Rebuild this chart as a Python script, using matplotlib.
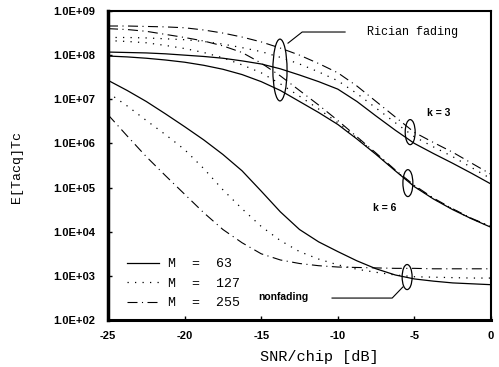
import matplotlib.pyplot as plt
from matplotlib.patches import Ellipse
import numpy as np

# SNR/chip grid [dB]
snr = [-25, -23.75, -22.5, -21.25, -20, -18.75, -17.5, -16.25, -15, -13.75, -12.5,
       -11.25, -10, -8.75, -7.5, -6.25, -5, -3.75, -2.5, -1.25, 0]

# log10(E[Tacq]Tc), nonfading
nf_63 = [7.43, 7.2, 6.95, 6.67, 6.38, 6.08, 5.75, 5.38, 4.92, 4.45, 4.05,
         3.77, 3.55, 3.34, 3.16, 3.02, 2.93, 2.88, 2.84, 2.82, 2.8]
nf_127 = [7.15, 6.85, 6.52, 6.2, 5.86, 5.43, 4.95, 4.52, 4.12, 3.8, 3.55,
          3.38, 3.25, 3.15, 3.08, 3.02, 2.98, 2.97, 2.96, 2.95, 2.95]
nf_255 = [6.65, 6.17, 5.7, 5.27, 4.85, 4.43, 4.05, 3.75, 3.5, 3.36, 3.28,
          3.23, 3.2, 3.19, 3.18, 3.17, 3.17, 3.16, 3.16, 3.16, 3.16]

# Rician fading, k = 3
k3_63 = [8.07, 8.06, 8.05, 8.03, 8.0, 7.97, 7.93, 7.87, 7.8, 7.69, 7.55,
         7.4, 7.23, 6.95, 6.62, 6.3, 6.0, 5.77, 5.55, 5.32, 5.08]
k3_127 = [8.4, 8.4, 8.39, 8.37, 8.35, 8.31, 8.25, 8.17, 8.08, 7.95, 7.8,
          7.62, 7.42, 7.13, 6.8, 6.47, 6.15, 5.92, 5.7, 5.45, 5.2]
k3_255 = [8.66, 8.66, 8.65, 8.64, 8.62, 8.57, 8.5, 8.41, 8.3, 8.16, 8.0,
          7.81, 7.6, 7.3, 6.95, 6.6, 6.25, 6.02, 5.8, 5.55, 5.3]

# Rician fading, k = 6
k6_63 = [7.98, 7.96, 7.93, 7.89, 7.84, 7.77, 7.68, 7.56, 7.4, 7.2, 6.95,
         6.7, 6.43, 6.1, 5.75, 5.38, 5.02, 4.74, 4.5, 4.29, 4.1]
k6_127 = [8.33, 8.31, 8.28, 8.22, 8.15, 8.06, 7.94, 7.78, 7.6, 7.35, 7.07,
          6.78, 6.47, 6.12, 5.76, 5.39, 5.03, 4.75, 4.51, 4.29, 4.11]
k6_255 = [8.6, 8.58, 8.54, 8.47, 8.4, 8.32, 8.21, 8.06, 7.82, 7.53, 7.2,
          6.87, 6.52, 6.15, 5.78, 5.4, 5.05, 4.76, 4.52, 4.3, 4.12]

labels = ['M  =  63', 'M  =  127', 'M  =  255']
yticks = [2, 3, 4, 5, 6, 7, 8, 9]
xticks = [-25, -20, -15, -10, -5, 0]

mono = 'Liberation Mono'
sans = 'Liberation Sans'

fig = plt.figure(figsize=(4.99, 3.67), dpi=100)
ax = fig.add_axes([108/499, 1 - 320/367, 383/499, 309/367])

styles = ['-', (0, (1, 5)), (0, (9, 4, 1, 4))]
widths = [0.9, 0.9, 0.8]
groups = [(nf_63, nf_127, nf_255), (k3_63, k3_127, k3_255), (k6_63, k6_127, k6_255)]
for g in groups:
    for i, vals in enumerate(g):
        ax.plot(snr, 10 ** np.array(vals), color='black', ls=styles[i], lw=widths[i],
                label=labels[i] if g is groups[0] else None)

ax.set_yscale('log')
ax.set_xlim(-25, 0)
ax.set_ylim(1e2, 1e9)
ax.set_yticks([10.0 ** e for e in yticks])
ax.set_yticklabels(['1.0E+%02d' % e for e in yticks])
ax.set_xticks(xticks)
ax.set_xticklabels([str(x) for x in xticks])
ax.minorticks_off()
ax.tick_params(direction='in', length=3, width=1, pad=9, labelsize=8)
ax.tick_params(axis='x', pad=8)
for lab in ax.get_xticklabels() + ax.get_yticklabels():
    lab.set_fontfamily(sans)
    lab.set_fontweight('bold')
for s in ax.spines.values():
    s.set_linewidth(1.5)
ax.spines['left'].set_linewidth(2.5)
ax.spines['bottom'].set_linewidth(2.2)

ax.set_xlabel('SNR/chip [dB]', family=mono, fontsize=11)
ax.xaxis.set_label_coords(0.553, -0.097)
ax.set_ylabel('E[Tacq]Tc', family=mono, fontsize=9.5)
ax.yaxis.set_label_coords(-0.222, 0.495)

leg = ax.legend(loc='lower left', bbox_to_anchor=(0.05, 0.035), frameon=False,
                prop={'family': mono, 'size': 9.5}, handlelength=2.4,
                handletextpad=0.7, labelspacing=0.55, borderpad=0, borderaxespad=0)

# annotations
tr = ax.transAxes
for cx, cy, w, h in [(0.449, 0.809, 0.037, 0.20), (0.789, 0.608, 0.026, 0.081),
                     (0.783, 0.443, 0.026, 0.087), (0.781, 0.139, 0.026, 0.081)]:
    ax.add_patch(Ellipse((cx, cy), w, h, transform=tr, fill=False, lw=0.9, color='black'))
ax.plot([0.470, 0.507, 0.619], [0.896, 0.932, 0.932], transform=tr, color='black', lw=0.8)
ax.plot([0.770, 0.742, 0.585], [0.107, 0.071, 0.071], transform=tr, color='black', lw=0.8)

ax.text(0.676, 0.932, 'Rician fading', transform=tr, family=mono, fontsize=8.5,
        ha='left', va='center')
ax.text(0.864, 0.670, 'k = 3', transform=tr, family=sans, fontweight='bold',
        fontsize=7.5, ha='center', va='center')
ax.text(0.723, 0.362, 'k = 6', transform=tr, family=sans, fontweight='bold',
        fontsize=7.5, ha='center', va='center')
ax.text(0.457, 0.074, 'nonfading', transform=tr, family=sans, fontweight='bold',
        fontsize=7.5, ha='center', va='center')

fig.savefig('out.png', dpi=100)
